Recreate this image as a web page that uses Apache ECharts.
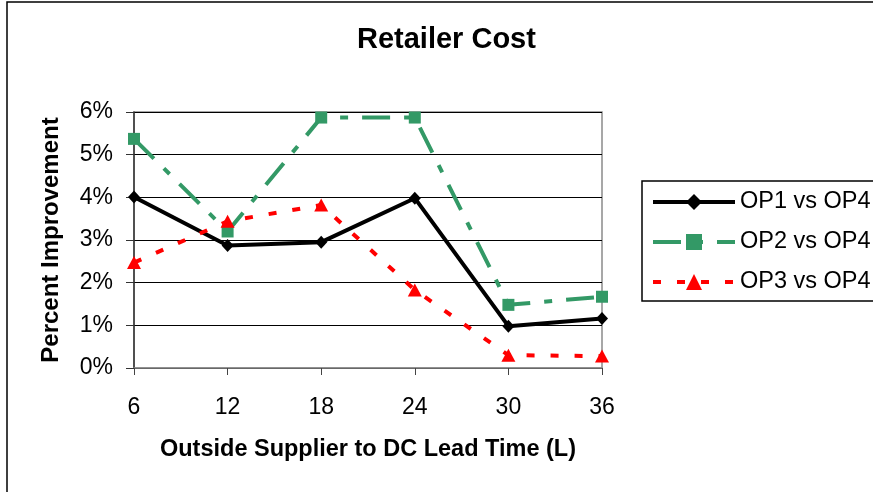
<!DOCTYPE html>
<html>
<head>
<meta charset="utf-8">
<title>Retailer Cost</title>
<script src="https://cdn.jsdelivr.net/npm/echarts@6/dist/echarts.min.js"></script>
<style>
  html, body { margin: 0; padding: 0; background: #fff; }
  #chart { width: 873px; height: 492px; }
</style>
</head>
<body>
<div id="chart"></div>
<script>
// lead time categories (L)
const leadTimes = ["6", "12", "18", "24", "30", "36"];
// percent improvement of each option against OP4
const op1 = [4.01, 2.87, 2.95, 3.98, 0.98, 1.16];
const op2 = [5.37, 3.20, 5.87, 5.87, 1.48, 1.67];
const op3 = [2.47, 3.44, 3.82, 1.83, 0.30, 0.28];
const seriesNames = ["OP1 vs OP4", "OP2 vs OP4", "OP3 vs OP4"];

const font = "Liberation Sans, Arial, sans-serif";

let chart = echarts.init(document.getElementById("chart"));

let option = {
  animation: false,
  backgroundColor: "#fff",
  textStyle: { fontFamily: font, color: "#000" },
  title: {
    text: "Retailer Cost",
    left: 352,
    top: 20,
    textStyle: { fontFamily: font, fontSize: 29, fontWeight: "bold", color: "#000" },
  },
  // outer frame of the chart area
  graphic: [
    {
      type: "rect",
      z: -10,
      shape: { x: 7, y: 2, width: 900, height: 520 },
      style: { fill: "none", stroke: "#000", lineWidth: 1.5 },
    },
  ],
  legend: {
    orient: "vertical",
    left: 642,
    top: 181,
    itemWidth: 82,
    itemHeight: 20,
    itemGap: 16,
    padding: [9, 20, 7, 9],
    borderColor: "#000",
    borderWidth: 1.5,
    data: seriesNames,
    lineStyle: { width: 4 },
    textStyle: { fontFamily: font, fontSize: 23.5, color: "#000", lineHeight: 24 },
  },
  grid: {
    left: 134,
    right: 271,
    top: 112,
    bottom: 124,
    show: true,
    borderColor: "#8a8a8a",
    borderWidth: 1.5,
  },
  xAxis: {
    type: "category",
    data: leadTimes,
    boundaryGap: false,
    name: "Outside Supplier to DC Lead Time (L)",
    nameLocation: "middle",
    nameGap: 70,
    nameTextStyle: { fontFamily: font, fontSize: 23.5, fontWeight: "bold", color: "#000" },
    axisLine: { lineStyle: { color: "#8a8a8a", width: 1.5 } },
    axisTick: { show: true, alignWithLabel: true, length: 7, lineStyle: { color: "#444" } },
    axisLabel: { fontFamily: font, fontSize: 23, color: "#000", margin: 28 },
    splitLine: { show: false },
  },
  yAxis: {
    type: "value",
    min: 0,
    max: 6,
    interval: 1,
    name: "Percent Improvement",
    nameLocation: "middle",
    nameGap: 71,
    nameRotate: 90,
    nameTextStyle: { fontFamily: font, fontSize: 24, fontWeight: "bold", color: "#000" },
    axisLine: { show: true, lineStyle: { color: "#333", width: 1.5 } },
    axisTick: { show: true, length: 8, lineStyle: { color: "#333" } },
    axisLabel: { fontFamily: font, fontSize: 23, color: "#000", margin: 21, formatter: "{value}%" },
    splitLine: { show: true, lineStyle: { color: "#000", width: 1 } },
  },
  series: [
    {
      name: seriesNames[0],
      type: "line",
      data: op1,
      symbol: "diamond",
      symbolSize: [12, 13],
      color: "#000",
      lineStyle: { color: "#000", width: 4 },
    },
    {
      name: seriesNames[1],
      type: "line",
      data: op2,
      symbol: "rect",
      symbolSize: 12,
      color: "#339966",
      lineStyle: { color: "#339966", width: 4, type: [28, 14, 8, 14] },
    },
    {
      name: seriesNames[2],
      type: "line",
      data: op3,
      symbol: "triangle",
      symbolSize: [14, 13],
      color: "#ff0000",
      lineStyle: { color: "#ff0000", width: 4, type: [8, 16] },
    },
  ],
};

chart.setOption(option);
</script>
</body>
</html>
